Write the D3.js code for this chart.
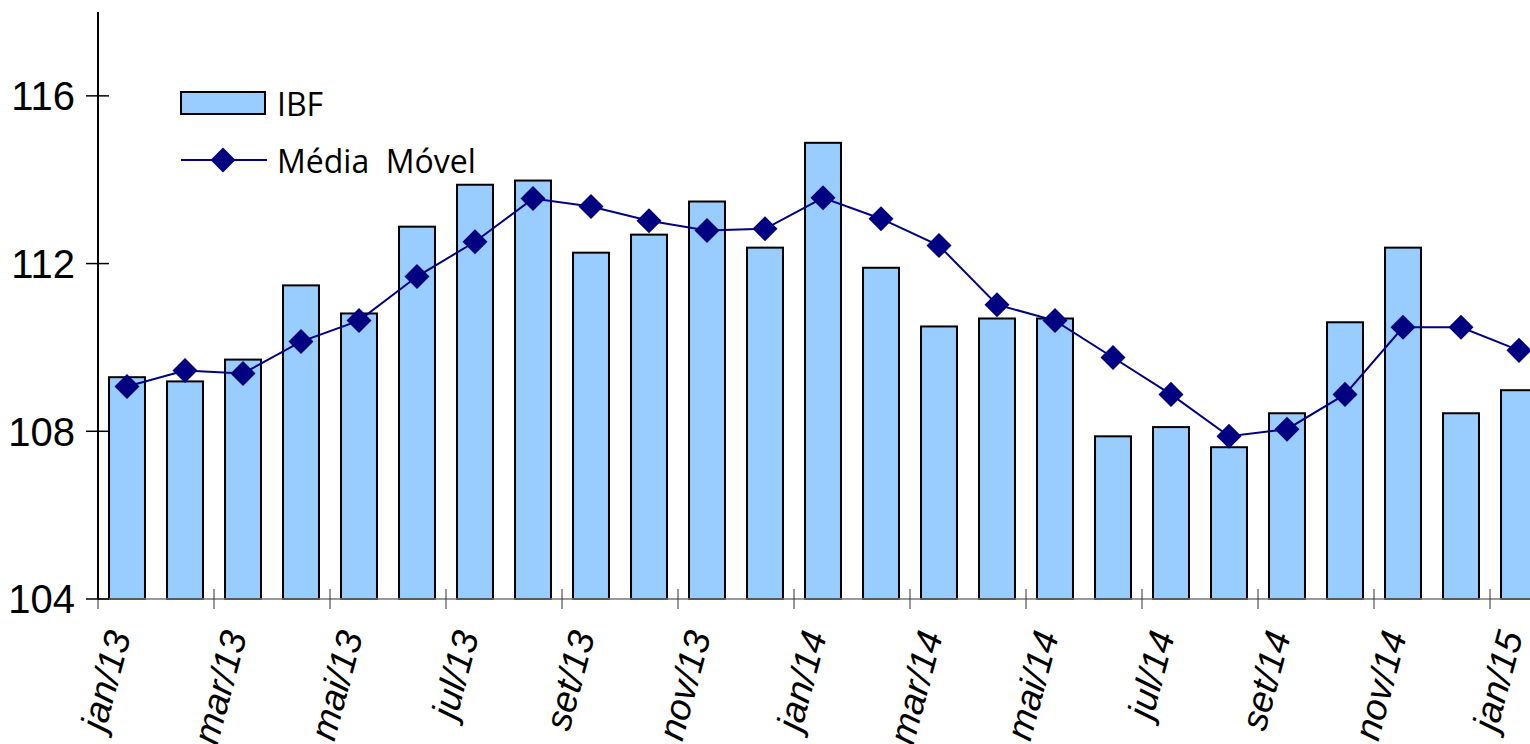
<!DOCTYPE html>
<html>
<head>
<meta charset="utf-8">
<script src="https://cdn.jsdelivr.net/npm/d3@7"></script>
<style>
  body { margin: 0; background: #fff; }
  svg { display: block; }
</style>
</head>
<body>
<script>
var months = ["jan/13","fev/13","mar/13","abr/13","mai/13","jun/13","jul/13","ago/13","set/13","out/13","nov/13","dez/13",
              "jan/14","fev/14","mar/14","abr/14","mai/14","jun/14","jul/14","ago/14","set/14","out/14","nov/14","dez/14","jan/15"];
var ibf = [109.29,109.19,109.71,111.48,110.81,112.88,113.88,113.98,112.26,112.69,113.48,112.38,
           114.88,111.90,110.50,110.69,110.69,107.88,108.10,107.62,108.43,110.60,112.38,108.43,108.98];
var mediaMovel = [109.07,109.45,109.38,110.14,110.64,111.69,112.52,113.55,113.36,113.02,112.79,112.83,
                  113.57,113.07,112.43,111.02,110.64,109.76,108.88,107.88,108.05,108.88,110.48,110.48,109.93];
var yTicks = [104, 108, 112, 116];

var width = 1530, height = 744;
var plotLeft = 98, plotBottom = 599, plotTop = 12;

var svg = d3.select("body").append("svg")
    .attr("width", width)
    .attr("height", height);

var x = d3.scaleBand().domain(months)
    .range([plotLeft, plotLeft + months.length * 58])
    .paddingInner(0.38).paddingOuter(0.19);

var y = d3.scaleLinear().domain([104, 118]).range([plotBottom, plotTop]);

// bars
svg.selectAll(".bar")
    .data(months)
  .enter().append("rect")
    .attr("class", "bar")
    .attr("x", function(d) { return x(d); })
    .attr("y", function(d, i) { return y(ibf[i]); })
    .attr("width", x.bandwidth())
    .attr("height", function(d, i) { return y(104) - y(ibf[i]); })
    .style("fill", "#99ccff")
    .style("stroke", "#000")
    .style("stroke-width", 2);

// x axis line
svg.append("line")
    .attr("x1", plotLeft).attr("x2", width)
    .attr("y1", plotBottom).attr("y2", plotBottom)
    .style("stroke", "#777").style("stroke-width", 1.5);

// x ticks at band boundaries, every 2 months
var step = x.step();
d3.range(0, months.length + 1, 2).forEach(function(i) {
  var tx = plotLeft + i * step;
  svg.append("line")
    .attr("x1", tx).attr("x2", tx)
    .attr("y1", plotBottom - 10).attr("y2", plotBottom + 10)
    .style("stroke", "#333").style("stroke-width", 1);
});

// x labels
svg.selectAll(".xlab")
    .data(months.filter(function(d, i) { return i % 2 == 0; }))
  .enter().append("text")
    .attr("class", "xlab")
    .attr("transform", function(d) { return "translate(" + (x(d) + x.bandwidth() / 2 + 4) + "," + (plotBottom + 36) + ")rotate(-75)"; })
    .attr("text-anchor", "end")
    .style("font-family", "Liberation Sans, Arial, sans-serif")
    .style("font-style", "italic")
    .style("font-size", "37px")
    .text(function(d) { return d; });

// y axis
svg.append("line")
    .attr("x1", plotLeft).attr("x2", plotLeft)
    .attr("y1", plotTop).attr("y2", plotBottom)
    .style("stroke", "#000").style("stroke-width", 2);

yTicks.forEach(function(t) {
  svg.append("line")
    .attr("x1", plotLeft - 12).attr("x2", plotLeft + 11)
    .attr("y1", y(t)).attr("y2", y(t))
    .style("stroke", "#000").style("stroke-width", 1.5);
  svg.append("text")
    .attr("x", plotLeft - 23).attr("y", y(t))
    .attr("dy", "0.36em")
    .attr("text-anchor", "end")
    .style("font-family", "Liberation Sans, Arial, sans-serif")
    .style("font-size", "40px")
    .text(t);
});

// moving average line
var line = d3.line()
    .x(function(d, i) { return x(months[i]) + x.bandwidth() / 2; })
    .y(function(d) { return y(d); });

svg.append("path")
    .datum(mediaMovel)
    .attr("d", line)
    .style("fill", "none")
    .style("stroke", "#000080")
    .style("stroke-width", 2);

var diamond = d3.symbol().type(d3.symbolDiamond2).size(400);

svg.selectAll(".pt")
    .data(mediaMovel)
  .enter().append("path")
    .attr("class", "pt")
    .attr("transform", function(d, i) { return "translate(" + (x(months[i]) + x.bandwidth() / 2) + "," + y(d) + ")"; })
    .attr("d", diamond)
    .style("fill", "#000080");

// legend
var lg = svg.append("g");
lg.append("rect")
    .attr("x", 181).attr("y", 92).attr("width", 84).attr("height", 22)
    .style("fill", "#99ccff").style("stroke", "#000").style("stroke-width", 2);
lg.append("text")
    .attr("x", 277).attr("y", 116)
    .style("font-family", "Open Sans, Noto Sans, sans-serif")
    .style("font-size", "32px")
    .text("IBF");
lg.append("line")
    .attr("x1", 181).attr("x2", 267).attr("y1", 160).attr("y2", 160)
    .style("stroke", "#000080").style("stroke-width", 2);
lg.append("path")
    .attr("transform", "translate(223,160)")
    .attr("d", diamond)
    .style("fill", "#000080");
lg.append("text")
    .attr("x", 277).attr("y", 173)
    .attr("xml:space", "preserve")
    .style("white-space", "pre")
    .style("font-family", "Open Sans, Noto Sans, sans-serif")
    .style("font-size", "32px")
    .text("Média  Móvel");
</script>
</body>
</html>
